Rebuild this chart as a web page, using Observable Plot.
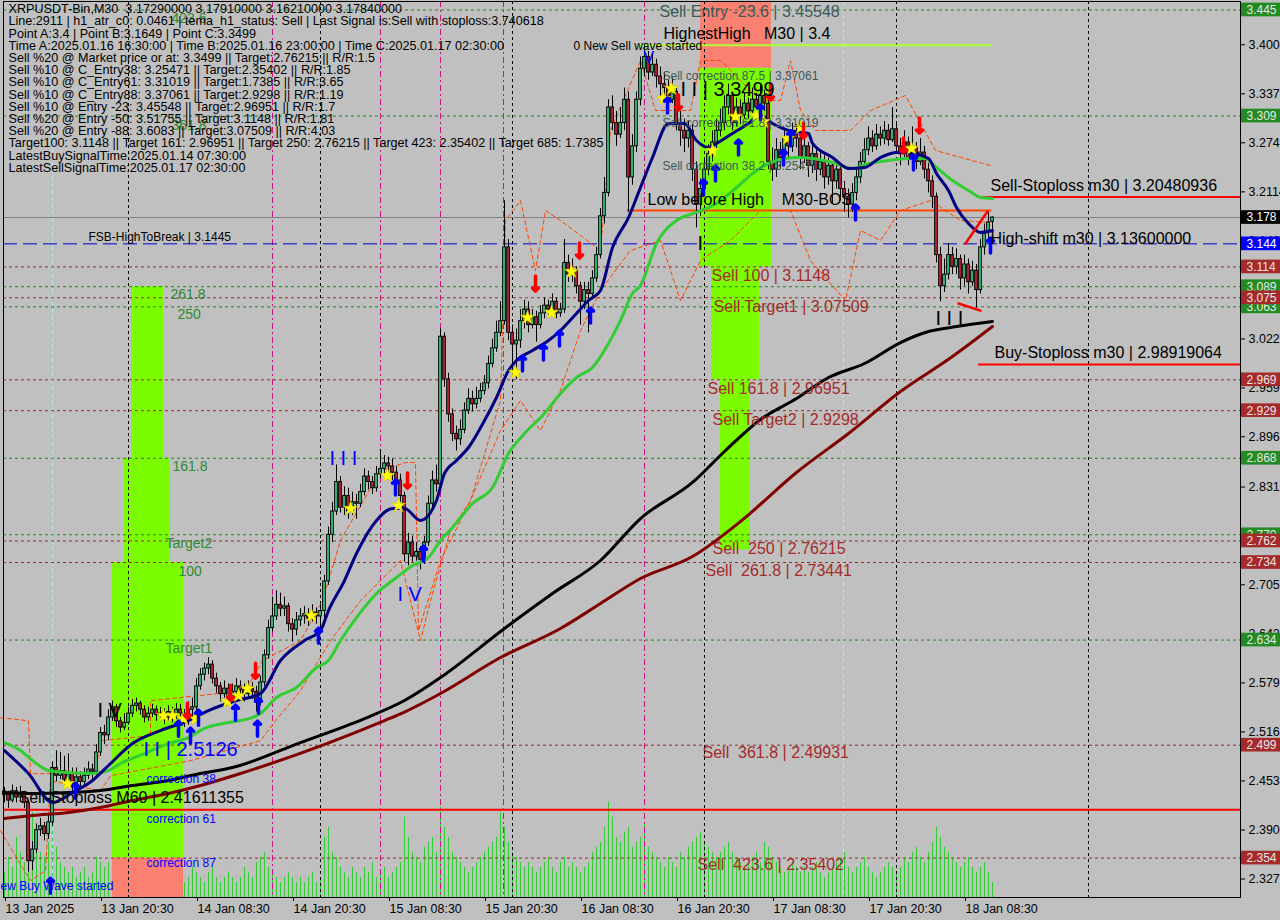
<!DOCTYPE html>
<html><head><meta charset="utf-8">
<script src="https://cdn.jsdelivr.net/npm/d3@7"></script>
<script src="https://cdn.jsdelivr.net/npm/@observablehq/plot@0.6"></script>
<style>
html,body{margin:0;padding:0;background:#c0c0c0;overflow:hidden;}
#chart svg{display:block;}
svg text{white-space:pre;}
</style></head><body><div id="chart"></div>
<script>
const HALF = 30*60*1000;
const T0 = Date.UTC(2025,0,13,8,30);
const bt = i => new Date(T0 + i*HALF);

const headerLines = [
"XRPUSDT-Bin,M30  3.17290000 3.17910000 3.16210000 3.17840000",
"Line:2911 | h1_atr_c0: 0.0461 | tema_h1_status: Sell | Last Signal is:Sell with stoploss:3.740618",
"Point A:3.4 | Point B:3.1649 | Point C:3.3499",
"Time A:2025.01.16 16:30:00 | Time B:2025.01.16 23:00:00 | Time C:2025.01.17 02:30:00",
"Sell %20 @ Market price or at: 3.3499 || Target:2.76215 || R/R:1.5",
"Sell %10 @ C_Entry38: 3.25471 || Target:2.35402 || R/R:1.85",
"Sell %10 @ C_Entry61: 3.31019 || Target:1.7385 || R/R:3.65",
"Sell %10 @ C_Entry88: 3.37061 || Target:2.9298 || R/R:1.19",
"Sell %10 @ Entry -23: 3.45548 || Target:2.96951 || R/R:1.7",
"Sell %20 @ Entry -50: 3.51755 || Target:3.1148 || R/R:1.81",
"Sell %20 @ Entry -88: 3.6083 || Target:3.07509 || R/R:4.03",
"Target100: 3.1148 || Target 161: 2.96951 || Target 250: 2.76215 || Target 423: 2.35402 || Target 685: 1.7385",
"LatestBuySignalTime:2025.01.14 07:30:00",
"LatestSellSignalTime:2025.01.17 02:30:00"
];

const firstOpen = 2.440, lastOpen = 3.1729;
const closes = [
2.435,2.428,2.440,2.432,2.438,2.425,2.350,2.365,2.390,2.395,
2.385,2.400,2.470,2.460,2.466,2.455,2.462,2.450,2.458,2.452,
2.460,2.468,2.465,2.490,2.515,2.512,2.535,2.548,2.530,2.522,
2.528,2.540,2.550,2.553,2.545,2.535,2.540,2.545,2.538,2.540,
2.535,2.542,2.538,2.545,2.540,2.532,2.545,2.548,2.575,2.590,
2.598,2.603,2.585,2.575,2.565,2.572,2.560,2.568,2.575,2.570,
2.565,2.572,2.568,2.555,2.580,2.615,2.650,2.665,2.680,2.675,
2.678,2.655,2.648,2.660,2.665,2.668,2.662,2.670,2.665,2.672,
2.710,2.770,2.800,2.838,2.805,2.820,2.800,2.812,2.810,2.825,
2.845,2.838,2.830,2.848,2.855,2.862,2.858,2.850,2.840,2.820,
2.745,2.760,2.742,2.748,2.738,2.760,2.810,2.840,2.835,3.025,
2.970,2.925,2.900,2.893,2.905,2.930,2.945,2.938,2.945,2.955,
2.965,2.990,3.010,3.030,3.045,3.140,3.030,3.015,3.020,3.045,
3.060,3.040,3.050,3.040,3.055,3.065,3.060,3.070,3.055,3.060,
3.120,3.105,3.110,3.090,3.070,3.085,3.080,3.100,3.130,3.180,
3.210,3.320,3.300,3.285,3.300,3.330,3.230,3.270,3.330,3.370,
3.385,3.365,3.375,3.360,3.350,3.345,3.330,3.340,3.300,3.290,
3.280,3.290,3.240,3.195,3.215,3.240,3.260,3.275,3.290,3.300,
3.320,3.335,3.300,3.320,3.310,3.325,3.315,3.330,3.320,3.335,
3.325,3.250,3.240,3.265,3.255,3.280,3.270,3.285,3.280,3.255,
3.270,3.245,3.260,3.240,3.250,3.230,3.245,3.225,3.240,3.215,
3.205,3.195,3.210,3.230,3.250,3.265,3.280,3.270,3.285,3.280,
3.290,3.278,3.292,3.270,3.260,3.275,3.255,3.268,3.250,3.262,
3.240,3.225,3.205,3.130,3.090,3.105,3.130,3.115,3.125,3.100,
3.118,3.095,3.110,3.085,3.140,3.160,3.172,3.1784];
const highs = [
2.445,2.440,2.448,2.445,2.446,2.440,2.428,2.375,2.398,2.405,
2.400,2.410,2.478,2.492,2.490,2.485,2.488,2.470,2.470,2.465,
2.470,2.478,2.475,2.500,2.522,2.525,2.545,2.556,2.552,2.535,
2.540,2.548,2.558,2.560,2.556,2.550,2.548,2.552,2.550,2.548,
2.546,2.550,2.548,2.553,2.552,2.545,2.555,2.560,2.585,2.598,
2.605,2.612,2.608,2.592,2.580,2.582,2.578,2.578,2.585,2.582,
2.578,2.582,2.580,2.575,2.588,2.622,2.660,2.690,2.698,2.695,
2.690,2.682,2.662,2.670,2.675,2.678,2.675,2.680,2.676,2.680,
2.718,2.780,2.812,2.860,2.845,2.832,2.830,2.825,2.822,2.835,
2.855,2.852,2.845,2.858,2.880,2.872,2.870,2.868,2.858,2.848,
2.825,2.772,2.768,2.760,2.755,2.768,2.820,2.852,2.860,3.035,
3.030,2.978,2.932,2.910,2.918,2.940,2.958,2.955,2.960,2.965,
2.975,3.000,3.022,3.045,3.070,3.200,3.150,3.040,3.035,3.060,
3.072,3.070,3.060,3.058,3.065,3.075,3.072,3.080,3.075,3.068,
3.150,3.130,3.125,3.115,3.095,3.095,3.095,3.110,3.140,3.190,
3.230,3.330,3.335,3.315,3.320,3.345,3.340,3.285,3.340,3.385,
3.400,3.392,3.390,3.382,3.372,3.365,3.355,3.358,3.345,3.315,
3.305,3.302,3.298,3.250,3.228,3.252,3.272,3.290,3.305,3.318,
3.335,3.350,3.340,3.332,3.330,3.338,3.332,3.345,3.338,3.348,
3.342,3.335,3.268,3.280,3.275,3.292,3.290,3.300,3.298,3.285,
3.282,3.275,3.272,3.265,3.262,3.258,3.255,3.250,3.250,3.245,
3.225,3.215,3.222,3.240,3.262,3.280,3.295,3.290,3.298,3.295,
3.302,3.298,3.320,3.298,3.280,3.290,3.282,3.295,3.275,3.280,
3.270,3.248,3.232,3.210,3.140,3.125,3.145,3.140,3.138,3.130,
3.130,3.125,3.122,3.118,3.150,3.170,3.185,3.1791];
const lows = [
2.425,2.418,2.425,2.425,2.428,2.418,2.336,2.338,2.360,2.382,
2.376,2.378,2.395,2.452,2.455,2.448,2.450,2.440,2.445,2.444,
2.448,2.455,2.455,2.460,2.485,2.500,2.505,2.530,2.522,2.515,
2.518,2.525,2.535,2.542,2.538,2.528,2.530,2.535,2.530,2.532,
2.526,2.530,2.528,2.532,2.530,2.522,2.525,2.535,2.540,2.570,
2.582,2.590,2.578,2.566,2.555,2.560,2.552,2.555,2.562,2.560,
2.555,2.560,2.558,2.542,2.550,2.575,2.610,2.645,2.660,2.665,
2.665,2.645,2.632,2.640,2.652,2.655,2.652,2.658,2.655,2.645,
2.662,2.705,2.760,2.795,2.798,2.795,2.790,2.795,2.790,2.805,
2.820,2.828,2.822,2.825,2.842,2.848,2.846,2.840,2.828,2.812,
2.735,2.730,2.735,2.736,2.725,2.732,2.755,2.805,2.825,2.830,
2.960,2.915,2.890,2.878,2.885,2.900,2.925,2.928,2.932,2.940,
2.950,2.958,2.985,3.005,3.025,3.040,3.020,2.985,2.970,3.010,
3.035,3.030,3.035,3.018,3.035,3.048,3.050,3.055,3.048,3.050,
3.055,3.095,3.095,3.080,3.040,3.060,3.030,3.075,3.095,3.125,
3.170,3.205,3.290,3.270,3.280,3.290,3.185,3.220,3.262,3.322,
3.360,3.355,3.360,3.345,3.335,3.328,3.315,3.325,3.290,3.270,
3.262,3.268,3.225,3.165,3.180,3.205,3.232,3.250,3.265,3.282,
3.290,3.310,3.290,3.295,3.298,3.305,3.305,3.310,3.310,3.315,
3.315,3.240,3.225,3.230,3.240,3.248,3.255,3.262,3.268,3.240,
3.248,3.230,3.235,3.225,3.232,3.215,3.220,3.195,3.215,3.200,
3.185,3.178,3.185,3.200,3.222,3.245,3.258,3.262,3.265,3.270,
3.272,3.270,3.275,3.260,3.245,3.255,3.245,3.250,3.240,3.245,
3.228,3.210,3.190,3.120,3.070,3.082,3.098,3.105,3.105,3.085,
3.090,3.080,3.090,3.062,3.080,3.130,3.150,3.1621];
const volume = [
25,40,30,60,45,35,70,85,50,45,40,55,
80,50,35,30,25,30,20,25,30,20,25,40,35,
30,35,25,20,30,25,20,15,20,25,20,15,20,25,15,20,15,20,25,20,15,
20,30,25,20,15,25,30,20,15,20,25,20,15,20,30,25,20,35,40,
45,30,25,20,15,20,25,20,15,20,15,20,25,15,20,
60,70,45,40,30,25,20,30,25,20,30,25,35,20,25,30,20,25,30,35,
80,60,45,40,35,50,55,60,45,90,
70,60,45,40,35,30,25,30,35,40,45,50,55,60,85,70,55,45,40,35,
30,35,30,25,30,35,40,30,25,35,40,30,35,30,25,30,35,45,50,55,
70,95,80,60,55,65,70,50,55,60,75,50,45,40,35,30,40,35,30,45,40,50,55,60,65,
55,50,45,40,45,50,55,45,40,35,30,35,40,45,35,55,50,40,35,30,25,30,35,30,25,
30,25,30,35,25,20,25,30,35,40,45,30,25,30,35,40,30,25,20,25,30,35,30,25,30,
40,35,45,50,40,35,45,55,70,60,50,45,40,35,30,35,40,30,25,30,35,25,15];

// moving averages: [bar index, price]
const navyMA = [[0,2.4924],[6,2.4628],[12,2.4255],[17,2.4384],[22,2.4539],[26,2.4732],[32,2.5015],[39,2.5182],[46,2.5310],[51,2.5439],[58,2.5568],[64,2.5658],[69,2.6083],[75,2.6340],[79,2.6469],[81,2.6726],[85,2.7112],[88,2.7460],[93,2.7885],[97,2.8039],[100,2.8039],[104,2.7885],[108,2.8142],[110,2.8490],[113,2.8657],[116,2.8824],[120,2.9172],[123,2.9468],[126,2.9815],[128,2.9944],[132,3.0072],[136,3.0201],[139,3.0330],[143,3.0549],[146,3.0716],[149,3.0845],[152,3.1398],[156,3.1784],[159,3.2170],[162,3.2556],[166,3.2994],[170,3.2994],[173,3.2775],[176,3.2685],[178,3.2737],[182,3.2865],[186,3.2994],[189,3.3097],[192,3.2994],[196,3.2904],[201,3.2865],[202,3.2737],[207,3.2556],[211,3.2415],[215,3.2428],[219,3.2556],[223,3.2621],[227,3.2608],[231,3.2544],[233,3.2351],[236,3.2132],[238,3.1913],[241,3.1707],[244,3.1591],[247,3.1617]];
const greenMA = [[0,2.5027],[4,2.4924],[7,2.4796],[11,2.4667],[16,2.4641],[22,2.4628],[26,2.4667],[29,2.4757],[35,2.4886],[41,2.5014],[46,2.5092],[50,2.5208],[56,2.5285],[59,2.5310],[64,2.5401],[68,2.5607],[73,2.5735],[78,2.5993],[81,2.6083],[84,2.6340],[88,2.6636],[93,2.6945],[98,2.7151],[102,2.7306],[106,2.7408],[109,2.7627],[112,2.7795],[117,2.8103],[122,2.8309],[126,2.8747],[130,2.9004],[135,2.9262],[139,2.9519],[143,2.9725],[147,2.9854],[151,3.0162],[154,3.0459],[157,3.0806],[159,3.0909],[163,3.1450],[168,3.1746],[173,3.1849],[178,3.1964],[183,3.2170],[188,3.2389],[193,3.2518],[198,3.2556],[202,3.2544],[207,3.2492],[212,3.2415],[216,3.2479],[221,3.2518],[226,3.2544],[230,3.2544],[233,3.2428],[237,3.2260],[241,3.2132],[244,3.2042],[247,3.2029]];
const blackMA = [[0,2.4384],[7,2.4371],[16,2.4384],[24,2.4410],[32,2.4474],[41,2.4539],[49,2.4629],[57,2.4706],[74,2.5027],[90,2.5336],[100,2.5568],[109,2.5864],[125,2.6495],[137,2.6945],[149,2.7370],[159,2.7910],[172,2.8374],[180,2.8773],[189,2.9185],[198,2.9455],[206,2.9725],[215,2.9905],[224,3.0175],[231,3.0317],[238,3.0381],[247,3.0446]];
const maroonMA = [[0,2.4050],[7,2.4088],[16,2.4127],[24,2.4191],[32,2.4281],[41,2.4371],[49,2.4474],[59,2.4629],[95,2.5310],[100,2.5420],[109,2.5658],[124,2.6121],[139,2.6495],[149,2.6816],[159,2.7138],[172,2.7421],[184,2.7872],[198,2.8503],[211,2.9004],[224,2.9545],[237,2.9995],[247,3.0381]];
const trailUpper = [[-1,2.5347],[6,2.5308],[6.5,2.4626],[22.75,2.4626],[24,2.5051],[36.5,2.5115],[36.5,2.5566],[60.25,2.5695],[64.5,2.6081],[74,2.6338],[79.5,2.6853],[84,2.7626],[94,2.8527],[100.25,2.8630],[102.75,2.8630],[103.5,2.6467],[109,2.7368],[116.5,2.8140],[124,2.9428],[125.25,3.1745],[129,3.2002],[132.75,3.1101],[135.25,3.1874],[139,3.1745],[149,3.1359],[151.5,3.2904],[159,3.3805],[162.75,3.3161],[171.5,3.3161],[174,3.3805],[179,3.3805],[189,3.3290],[194,3.3290],[196.5,3.3805],[199,3.3161],[202.75,3.2904],[211.5,3.2904],[216.5,3.3161],[225.25,3.3354],[232.75,3.2646],[246.5,3.2453]];
const trailLower = [[-1,2.3892],[6.5,2.3249],[10.25,2.3378],[11.5,2.4536],[24,2.4407],[26.5,2.4600],[46.5,2.4794],[64,2.5051],[67.75,2.5308],[74,2.5695],[81.5,2.6338],[89,2.6853],[99,2.7368],[104,2.6338],[106.5,2.6853],[111.5,2.7755],[116.5,2.8140],[124,2.9041],[129,2.9428],[134,2.9041],[139,2.9557],[144,3.0329],[149,3.0844],[156.5,3.1359],[164,3.1488],[169,3.0715],[174,3.1230],[181.5,3.1488],[189,3.1874],[196.5,3.1874],[201.5,3.1230],[210.25,3.0715],[214,3.1616],[219,3.1488],[224,3.1874],[231.5,3.2002],[239,3.1745],[246.5,3.1719]];

// zones [bar1, bar2, price1, price2]
const greenZones = [[31.75,39.75,3.0893,2.8686],[30,41.5,2.8686,2.7344],[27,44.75,2.7344,2.3540],[174,191.75,3.37061,3.1148],[176.75,188.75,3.1148,2.96951],[179,186.5,2.96951,2.7505]];
const salmonZones = [[27,44.75,2.3540,2.3033],[174,191.75,3.4564,3.37061]];

const greenLevels = [3.4455,3.3090,3.0893,3.0634,2.8686,2.7701,2.7344,2.6346];
const brownLevels = [3.1148,3.07509,2.96951,2.9298,2.76215,2.73441,2.49931,2.35402];
const greenTags = [[3.4455,"3.445"],[3.3090,"3.309"],[3.0893,"3.089"],[3.0634,"3.063"],[2.8686,"2.868"],[2.7701,"2.770"],[2.6346,"2.634"]];
const redTags = [[3.1148,"3.114"],[3.07509,"3.075"],[2.96951,"2.969"],[2.9298,"2.929"],[2.76215,"2.762"],[2.73441,"2.734"],[2.49931,"2.499"],[2.35402,"2.354"]];
const lastPrice = 3.1784, highToBreak = 3.1445;

const dayLines = [31,79,127,175,223,271];
const markerLines = [67,94,109,124.75,160];
const cyanLines = [12,209.75];

const buyArrows = [[17.75,2.4407],[43.5,2.5205],[46.5,2.5115],[48.5,2.5347],[57.75,2.5411],[63.25,2.5205],[63.5,2.5502],[78.5,2.6403],[97.75,2.8308],[104.75,2.7458],[129.5,2.9904],[134.75,3.0046],[138.75,3.0226],[146.5,3.0522],[165.75,3.3225],[174.75,3.2170],[177.75,3.2350],[183.5,3.2685],[189,3.3135],[194.75,3.2556],[196.5,3.2801],[212.75,3.1848],[227.25,3.2492],[246.5,3.1423],[11.5,2.3184]];
const sellArrows = [[45.75,2.5437],[56.5,2.5669],[62.75,2.5952],[100.75,2.8398],[132.75,3.0934],[143.75,3.1359],[168.5,3.3264],[191.5,3.3393],[199.75,3.2904],[224.75,3.2710],[228.75,3.2968]];
const stars = [[15.75,2.4497],[39.75,2.5373],[42,2.5373],[44.75,2.5334],[47.75,2.5334],[55.75,2.5553],[58.5,2.5630],[60.75,2.5720],[76.75,2.6660],[86.5,2.8038],[95.75,2.8462],[98.5,2.8076],[127.75,2.9788],[130.75,3.0496],[136.75,3.0561],[141.75,3.1088],[164.75,3.3315],[166.75,3.3444],[177,3.2646],[182.75,3.3084],[188,3.3097],[189.75,3.3019],[195.75,3.2801],[199,3.2942],[226.75,3.2672]];

const sellStops = [[3.20480936,244],[2.98919064,243.5]];
const m60Stop = 2.41611355;
const highestHigh = [[159,3.4],[246.5,3.4]];
const lowBeforeHigh = [[155.75,3.1874],[246.5,3.1874]];
const redTrend = [[240.25,3.1449],[245.75,3.1861]];
const redBottom = [[238.5,3.0677],[244,3.0586]];

const sellLevelLabels = [[176.75,3.1037,"Sell 100 | 3.1148"],[177.25,3.0638,"Sell Target1 | 3.07509"],[175.75,2.9582,"Sell 161.8 | 2.96951"],[177,2.9183,"Sell Target2 | 2.9298"],[177,2.7522,"Sell  250 | 2.76215"],[175.25,2.7239,"Sell  261.8 | 2.73441"],[174.5,2.4896,"Sell  361.8 | 2.49931"],[173.25,2.3455,"Sell  423.6 | 2.35402"]];
const corrLabels = [[164.5,3.3599,"Sell correction 87.5 | 3.37061"],[164.5,3.2994,"Sell correction 61.8 | 3.31019"],[164.5,3.2440,"Sell correction 38.2 | 3.25471"]];
const entryLabels = [[163.75,3.4435,"Sell Entry -23.6 | 3.45548"]];
const blackBig = [[164.75,3.4152,"HighestHigh   M30 | 3.4"],[160.75,3.2015,"Low before High    M30-BOS"],[246.5,3.2196,"Sell-Stoploss m30 | 3.20480936"],[246.5,3.1513,"High-shift m30 | 3.13600000"],[247.5,3.0046,"Buy-Stoploss m30 | 2.98919064"],[3.5,2.4317,"Sell-Stoploss M60 | 2.41611355"]];
const blackSmall = [[142.25,3.3985,"0 New Sell wave started"],[21,3.1526,"FSB-HighToBreak | 3.1445"]];
const waveBlack = [[169,3.3431,"I I | 3.3499"],[23.25,2.5437,"I V"],[232.75,3.0483,"I I I"],[173.25,3.1449,"I"]];
const waveBlue = [[34.75,2.4935,"I I | 2.5126"],[81.25,2.8681,"I I I"],[98.25,2.6930,"I V"]];
const waveMark = [[159.75,3.3843,"V"]];
const blueSmall = [[35.5,2.4562,"correction 38"],[35.5,2.4047,"correction 61"],[35.5,2.3481,"correction 87"],[-1,2.3184,"ew Buy Wave started"]];
const fibGreen = [[41.5,3.0792,"261.8"],[43.25,3.0535,"250"],[42,2.8578,"161.8"],[40.25,2.7587,"Target2"],[43.5,2.7226,"100"],[40.25,2.6235,"Target1"],[41.75,3.4345,"423.6"],[41.75,3.2968,"361.8"]];

const yTicks = [[3.4007,"3.4007"],[3.3376,"3.3376"],[3.2745,"3.2745"],[3.2114,"3.2114"],[3.1483,"3.1483"],[3.0852,"3.0852"],[3.0221,"3.0221"],[2.9590,"2.9590"],[2.8962,"2.8962"],[2.8315,"2.8315"],[2.7686,"2.7686"],[2.7057,"2.7057"],[2.6426,"2.6426"],[2.5795,"2.5795"],[2.5164,"2.5164"],[2.4533,"2.4533"],[2.3902,"2.3902"],[2.3271,"2.3271"]];
const xTickBars = [0,24,48,72,96,120,144,168,192,216,240];

// ---------- build ----------
const xDomain = [new Date(T0 - HALF/4), new Date(T0 + 309*HALF)];
const yDomain = [2.3033, 3.4564];
const yMin = yDomain[0];
const volUnit = 0.00129;
const xEndMs = +xDomain[1];
const tagHalf = 0.0088;

const candles = closes.map((c,i)=>{
  const o = i===0 ? firstOpen : (i===closes.length-1 ? lastOpen : closes[i-1]);
  return {t: bt(i), o, c, h: Math.max(highs[i],o,c), l: Math.min(lows[i],o,c)};
});
const bulls = candles.filter(d=>d.c>=d.o), bears = candles.filter(d=>d.c<d.o);
const vols = volume.map((v,i)=>({t: bt(i), v}));
const yLabel = new Map(yTicks);
const months = ["Jan","Feb","Mar","Apr","May","Jun","Jul","Aug","Sep","Oct","Nov","Dec"];
const pad = n => String(n).padStart(2,"0");
const fmtX = d => (+d===T0) ? `${d.getUTCDate()} ${months[d.getUTCMonth()]} ${d.getUTCFullYear()}` :
  `${d.getUTCDate()} ${months[d.getUTCMonth()]} ${pad(d.getUTCHours())}:${pad(d.getUTCMinutes())}`;

const FONT = "Liberation Sans, Arial, sans-serif";
const P = d => bt(d[0]);
const V = d => d[1];
const txt = (data, fill, size) => Plot.text(data, {x: P, y: V, text: d=>d[2], fill, fontSize: size, textAnchor:"start", lineAnchor:"middle", fontFamily: FONT});
const tagRect = (data, fill) => Plot.rect(data, {x1: ()=>new Date(xEndMs + HALF*0.25), x2: ()=>new Date(xEndMs + HALF*14), y1: d=>d[0]-tagHalf, y2: d=>d[0]+tagHalf, fill});
const tagText = (data, fill) => Plot.text(data, {x: ()=>new Date(xEndMs), y: d=>d[0], text: d=>d[1], dx: 6, textAnchor:"start", fill, fontSize: 12, fontFamily: FONT});

const chart = Plot.plot({
  width: 1280, height: 920,
  marginLeft: 3, marginRight: 40, marginTop: 1, marginBottom: 23,
  style: {background: "#c0c0c0", fontFamily: FONT, fontSize: "12px", color: "black", overflow: "hidden"},
  x: {type: "utc", domain: xDomain, label: null},
  y: {domain: yDomain, label: null},
  marks: [
    Plot.ruleX(vols, {x: "t", y1: ()=>yMin, y2: d=>yMin + d.v*volUnit, stroke: "#32cd32", strokeWidth: 1}),
    Plot.rect(greenZones, {x1: d=>bt(d[0]), x2: d=>bt(d[1]), y1: d=>d[2], y2: d=>d[3], fill: "#7cfc00"}),
    Plot.rect(salmonZones, {x1: d=>bt(d[0]), x2: d=>bt(d[1]), y1: d=>d[2], y2: d=>d[3], fill: "#fa8072"}),
    Plot.ruleX(dayLines.map(bt), {stroke: "black", strokeDasharray: "3,3"}),
    Plot.ruleX(markerLines.map(bt), {stroke: "#c71585", strokeDasharray: "6,3,2,3"}),
    Plot.ruleX(cyanLines.map(bt), {stroke: "#b0e8f0", strokeDasharray: "4,3"}),
    Plot.ruleY(greenLevels, {stroke: "#1a8a1a", strokeDasharray: "3,3"}),
    Plot.ruleY(brownLevels, {stroke: "#a02828", strokeDasharray: "3,3"}),
    Plot.ruleY([lastPrice], {stroke: "#808080"}),
    Plot.ruleY([highToBreak], {stroke: "#0000cd", strokeDasharray: "14,6"}),
    Plot.ruleY([m60Stop], {stroke: "#ff0000", strokeWidth: 2}),
    Plot.ruleY(sellStops, {y: d=>d[0], x1: d=>bt(d[1]), x2: ()=>xDomain[1], stroke: "#ff0000", strokeWidth: 2}),
    Plot.line(highestHigh, {x: P, y: V, stroke: "#adff2f", strokeWidth: 2}),
    Plot.line(lowBeforeHigh, {x: P, y: V, stroke: "#ff4500", strokeWidth: 2}),
    Plot.line(trailUpper, {x: P, y: V, stroke: "#ff4500", strokeWidth: 1, strokeDasharray: "4,3"}),
    Plot.line(trailLower, {x: P, y: V, stroke: "#ff4500", strokeWidth: 1, strokeDasharray: "4,3"}),
    Plot.ruleX(candles, {x: "t", y1: "l", y2: "h", stroke: "black", strokeWidth: 1}),
    Plot.rect(bulls, {x1: d=>new Date(+d.t - 10*60000), x2: d=>new Date(+d.t + 10*60000), y1: "o", y2: "c", fill: "#3ccf8a", stroke: "black", strokeWidth: 1}),
    Plot.rect(bears, {x1: d=>new Date(+d.t - 10*60000), x2: d=>new Date(+d.t + 10*60000), y1: "o", y2: "c", fill: "#c8283c", stroke: "black", strokeWidth: 1}),
    Plot.line(maroonMA, {x: P, y: V, stroke: "#800000", strokeWidth: 3, curve: "monotone-x"}),
    Plot.line(blackMA, {x: P, y: V, stroke: "black", strokeWidth: 3, curve: "monotone-x"}),
    Plot.line(greenMA, {x: P, y: V, stroke: "#32cd32", strokeWidth: 3, curve: "monotone-x"}),
    Plot.line(navyMA, {x: P, y: V, stroke: "#000080", strokeWidth: 3, curve: "monotone-x"}),
    Plot.line(redTrend, {x: P, y: V, stroke: "#ff0000", strokeWidth: 2.5}),
    Plot.line(redBottom, {x: P, y: V, stroke: "#ff0000", strokeWidth: 2.5}),
    Plot.dot(stars, {x: P, y: V, symbol: "star", r: 4.5, fill: "#ffff00", stroke: "#d0c000", strokeWidth: 0.5}),
    Plot.vector(buyArrows, {x: P, y: V, length: 15, rotate: 0, stroke: "#0000ff", strokeWidth: 3.5}),
    Plot.vector(sellArrows, {x: P, y: V, length: 15, rotate: 180, stroke: "#ff0000", strokeWidth: 3.5}),
    txt(fibGreen, "#2e8b2e", 14),
    txt(sellLevelLabels, "#a52a2a", 16),
    txt(corrLabels, "#3d5a5a", 12),
    txt(entryLabels, "#3d5a5a", 16),
    txt(blackBig, "black", 16),
    txt(blackSmall, "black", 12),
    txt(waveBlack, "black", 20),
    txt(waveBlue, "#0000ff", 20),
    txt(waveMark, "#0000ff", 16),
    txt(blueSmall, "#0000ff", 12),
    Plot.text([headerLines.join("\n")], {frameAnchor: "top-left", text: d=>d, dx: 5, dy: 3, textAnchor: "start", lineAnchor: "top", lineHeight: 0.968, fontSize: 12.6, fill: "black", fontFamily: FONT}),
    Plot.axisY(yTicks.map(d=>d[0]), {anchor: "right", label: null, tickSize: 4, tickPadding: 4, tickFormat: d=>yLabel.get(d), fontSize: 12.5, fill: "black", stroke: "black"}),
    Plot.axisX(xTickBars.map(bt), {anchor: "bottom", label: null, tickSize: 4, tickPadding: 3, tickFormat: fmtX, textAnchor: "start", dx: 1, fontSize: 12.5, fill: "black", stroke: "black"}),
    Plot.frame({stroke: "black"}),
    tagRect(greenTags, "#228b22"), tagText(greenTags, "#e8e8e8"),
    tagRect(redTags, "#a52a2a"), tagText(redTags, "#e8e8e8"),
    tagRect([[highToBreak,"3.144"]], "#0000ff"), tagText([[highToBreak,"3.144"]], "white"),
    tagRect([[lastPrice,"3.178"]], "black"), tagText([[lastPrice,"3.178"]], "white")
  ]
});
document.getElementById("chart").appendChild(chart);
</script></body></html>
